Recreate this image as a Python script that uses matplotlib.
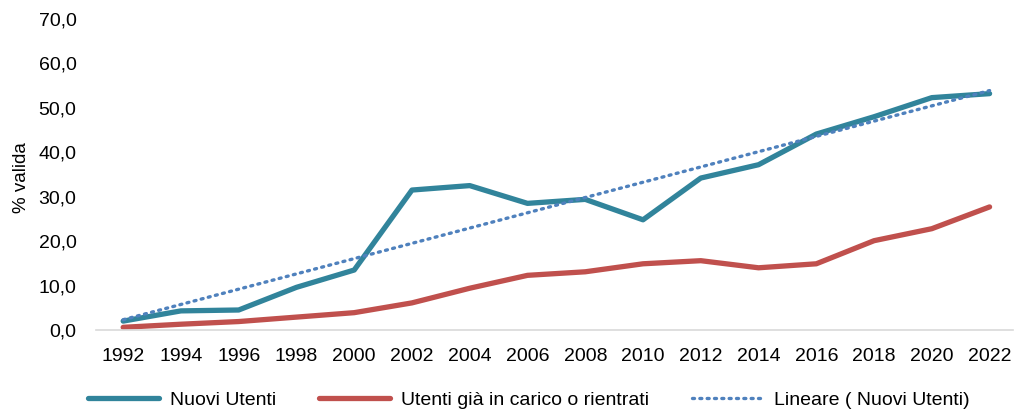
import matplotlib.pyplot as plt
import numpy as np
from matplotlib.ticker import FuncFormatter

years = ['1992', '1994', '1996', '1998', '2000', '2002', '2004', '2006',
         '2008', '2010', '2012', '2014', '2016', '2018', '2020', '2022']
nuovi_utenti = [2.0, 4.3, 4.5, 9.6, 13.5, 31.5, 32.5, 28.5,
                29.4, 24.8, 34.2, 37.2, 44.1, 48.0, 52.3, 53.2]
utenti_in_carico = [0.6, 1.3, 1.9, 2.9, 3.9, 6.1, 9.4, 12.3,
                    13.1, 14.9, 15.6, 14.0, 14.9, 20.1, 22.8, 27.7]

plt.rcParams['font.family'] = ['Liberation Sans', 'DejaVu Sans']

x = np.arange(len(years))
# linear trend of Nuovi Utenti, like the Excel "Lineare" trendline
slope, intercept = np.polyfit(x, nuovi_utenti, 1)
trend = slope * x + intercept

fig = plt.figure(figsize=(10.14, 4.13), dpi=100)
ax = fig.add_axes([0.0947, 0.201, 0.904, 0.753])

ax.plot(x, nuovi_utenti, color='#31849B', lw=3.8, solid_capstyle='round',
        label='Nuovi Utenti')
ax.plot(x, utenti_in_carico, color='#C0504D', lw=3.8, solid_capstyle='round',
        label='Utenti già in carico o rientrati')
ax.plot(x, trend, color='#4F81BD', lw=2.4, linestyle=(0, (0.6, 1.6)),
        dash_capstyle='round', label='Lineare ( Nuovi Utenti)')

ax.set_xlim(-0.47, 15.4)
ax.set_ylim(0, 70)
ax.set_yticks(np.arange(0, 71, 10))
ax.yaxis.set_major_formatter(FuncFormatter(lambda v, p: f'{v:.1f}'.replace('.', ',')))
ax.set_xticks(x)
ax.set_xticklabels(years)
ax.tick_params(length=0, labelsize=14, colors='#000000')
ax.tick_params(axis='x', pad=13)
ax.tick_params(axis='y', pad=14)

for s in ['top', 'right', 'left']:
    ax.spines[s].set_visible(False)
ax.spines['bottom'].set_color('#D9D9D9')
ax.spines['bottom'].set_linewidth(1.2)

ax.set_ylabel('% valida', fontsize=13.5)
ax.yaxis.set_label_coords(-0.072, 0.49)

fig.legend(loc='center', bbox_to_anchor=(0.5217, 0.031), ncol=3, frameon=False,
           fontsize=14, handlelength=3.65, columnspacing=2.2, handletextpad=0.57)

fig.savefig('out.png', dpi=100)
